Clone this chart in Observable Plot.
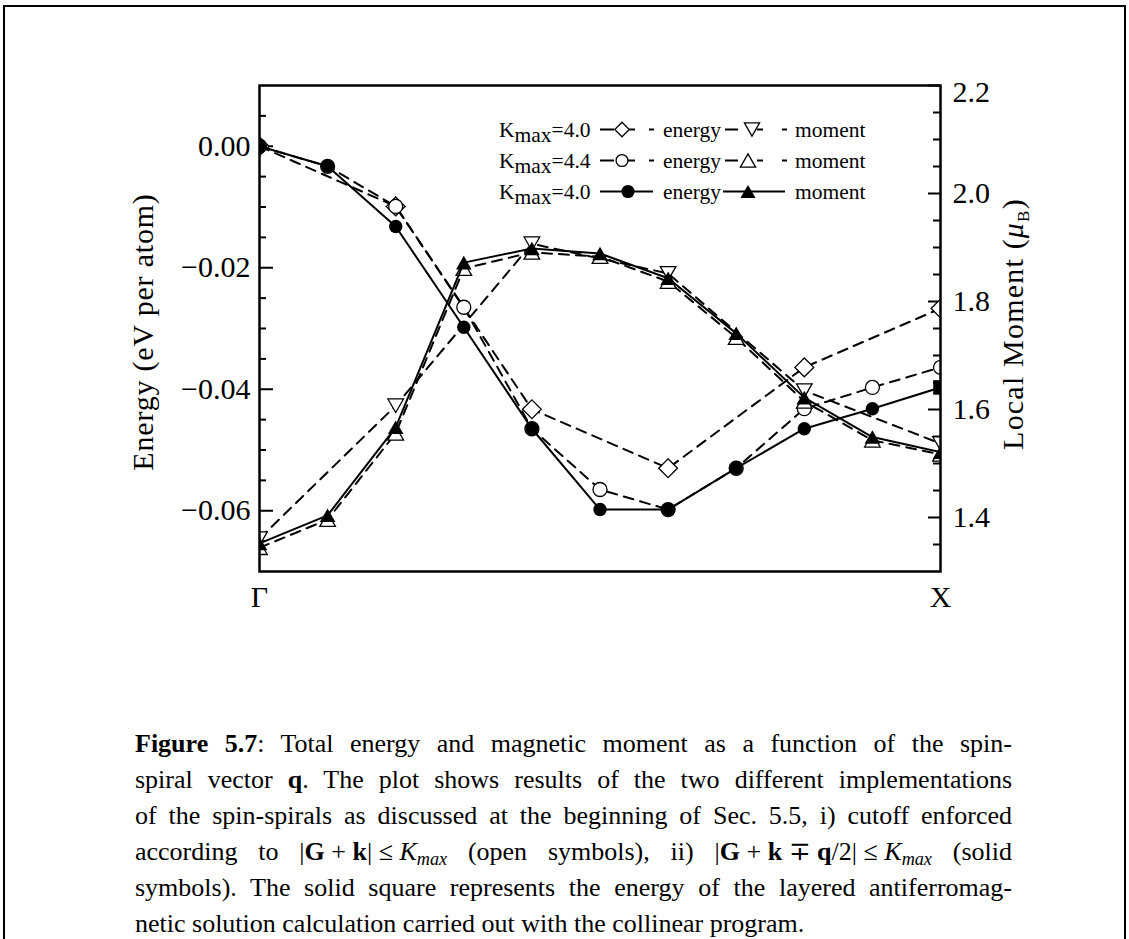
<!DOCTYPE html>
<html>
<head>
<meta charset="utf-8">
<script src="https://cdn.jsdelivr.net/npm/d3@7"></script>
<script src="https://cdn.jsdelivr.net/npm/@observablehq/plot@0.6"></script>
<style>
  html, body { margin: 0; padding: 0; background: #fff; }
  #page { position: relative; width: 1129px; height: 939px; overflow: hidden; background: #fff; font-family: "Liberation Serif", serif; color: #000; }
  #border { position: absolute; left: 3px; top: 5px; width: 1123px; height: 1000px; border: 2.5px solid #000; border-bottom: none; box-sizing: border-box; }
  #chart { position: absolute; left: 0; top: 0; }
  #caption { position: absolute; left: 135px; top: 726px; width: 877px; font-size: 26px; line-height: 36px; }
  #caption div { text-align: justify; text-align-last: justify; white-space: nowrap; }
  #caption div.last { text-align-last: left; }
  #caption sub { font-size: 0.7em; vertical-align: -0.3em; line-height: 0; }
</style>
</head>
<body>
<div id="page">
  <div id="border"></div>
  <div id="chart"></div>
  <div id="caption">
    <div><b>Figure 5.7</b>: Total energy and magnetic moment as a function of the spin-</div>
    <div>spiral vector <b>q</b>. The plot shows results of the two different implementations</div>
    <div>of the spin-spirals as discussed at the beginning of Sec. 5.5, i) cutoff enforced</div>
    <div>according to |<b>G</b>&#8197;+&#8197;<b>k</b>|&#8197;≤&#8197;<i>K<sub>max</sub></i> (open symbols), ii) |<b>G</b>&#8197;+&#8197;<b>k</b>&#8197;∓&#8197;<b>q</b>/2|&#8197;≤&#8197;<i>K<sub>max</sub></i> (solid</div>
    <div>symbols). The solid square represents the energy of the layered antiferromag-</div>
    <div class="last">netic solution calculation carried out with the collinear program.</div>
  </div>
</div>
<script>
// ---------------- data ----------------
const qFine   = [0, 0.1, 0.2, 0.3, 0.4, 0.5, 0.6, 0.7, 0.8, 0.9, 1.0];
const qCoarse = [0, 0.2, 0.4, 0.6, 0.8, 1.0];

// Kmax=4.0, open symbols (dashed): energy (diamonds), moment (down triangles)
const energyOpen40 = [0.0, -0.0099, -0.0433, -0.0530, -0.0364, -0.0267];
const momentOpen40 = [1.361, 1.607, 1.907, 1.852, 1.635, 1.537];

// Kmax=4.4, open symbols (dashed): energy (circles), moment (up triangles)
const energyOpen44 = [0.0, -0.0033, -0.0099, -0.0265, -0.0465, -0.0565, -0.0598, -0.0530, -0.0432, -0.0397, -0.0364];
const momentOpen44 = [1.344, 1.396, 1.556, 1.861, 1.891, 1.883, 1.837, 1.733, 1.615, 1.543, 1.517];

// Kmax=4.0, solid symbols (solid line): energy (circles, q = 0 ... 0.9), moment (triangles)
const energySolid40 = [0.0, -0.0033, -0.0132, -0.0298, -0.0465, -0.0598, -0.0598, -0.0530, -0.0465, -0.0432];
const momentSolid40 = [1.352, 1.404, 1.567, 1.872, 1.898, 1.889, 1.843, 1.741, 1.622, 1.549, 1.521];

// layered antiferromagnetic solution (solid square)
const afmQ = [1.0];
const afmEnergy = [-0.0397];

// axes
const energyDomain = [-0.07, 0.01];
const momentDomain = [1.3, 2.2];
const energyTicks = [-0.06, -0.04, -0.02, 0.00];
const energyMinorTicks = [0.005, -0.005, -0.01, -0.015, -0.025, -0.03, -0.035, -0.045, -0.05, -0.055, -0.065];
const momentTicks = [1.4, 1.6, 1.8, 2.0, 2.2];
const momentMinorTicks = [1.35, 1.45, 1.5, 1.55, 1.65, 1.7, 1.75, 1.85, 1.9, 1.95, 2.05, 2.1, 2.15];
const xTicks = [0, 1];
const xTickLabels = ["Γ", "X"];

// ---------------- helpers ----------------
const m2e = m => energyDomain[0] + (m - momentDomain[0]) / (momentDomain[1] - momentDomain[0]) * (energyDomain[1] - energyDomain[0]);
const e2m = e => momentDomain[0] + (e - energyDomain[0]) / (energyDomain[1] - energyDomain[0]) * (momentDomain[1] - momentDomain[0]);
const rows = (qs, vals, f = v => v) => qs.map((q, i) => ({q, y: f(vals[i])}));

const symDiamond = {draw(c, size) { const h = Math.sqrt(size / 2); c.moveTo(0, -h); c.lineTo(h, 0); c.lineTo(0, h); c.lineTo(-h, 0); c.closePath(); }};
const symUp = {draw(c, size) { const s = Math.sqrt(size * 4 / Math.sqrt(3)), t = s * Math.sqrt(3) / 2; c.moveTo(0, -t / 2); c.lineTo(s / 2, t / 2); c.lineTo(-s / 2, t / 2); c.closePath(); }};
const symDown = {draw(c, size) { const s = Math.sqrt(size * 4 / Math.sqrt(3)), t = s * Math.sqrt(3) / 2; c.moveTo(0, t / 2); c.lineTo(s / 2, -t / 2); c.lineTo(-s / 2, -t / 2); c.closePath(); }};

const fmtE = d => (d < -1e-9 ? "−" : "") + Math.abs(d).toFixed(2);
const fmtM = d => e2m(d).toFixed(1);

const W = 1129, H = 650, ML = 259, MR = 189, MT = 85, MB = 79;
const FW = W - ML - MR;
const dash = "10,7";

const e40 = rows(qCoarse, energyOpen40);
const m40 = rows(qCoarse, momentOpen40, m2e);
const e44 = rows(qFine, energyOpen44);
const m44 = rows(qFine, momentOpen44, m2e);
const eS = rows(qFine.slice(0, energySolid40.length), energySolid40);
const afm = rows(afmQ, afmEnergy);
const eSLine = eS.concat(afm);
const mS = rows(qFine, momentSolid40, m2e);

const openDot = (data, symbol, r) => Plot.dot(data, {x: "q", y: "y", symbol, r, fill: "white", stroke: "black", strokeWidth: 1.3, clip: true});
const solidDot = (data, symbol, r) => Plot.dot(data, {x: "q", y: "y", symbol, r, fill: "black", stroke: "none", clip: true});
const dLine = data => Plot.line(data, {x: "q", y: "y", stroke: "black", strokeWidth: 2, strokeDasharray: dash, clip: true});
const sLine = data => Plot.line(data, {x: "q", y: "y", stroke: "black", strokeWidth: 2, clip: true});

const plot = Plot.plot({
  width: W, height: H,
  marginLeft: ML, marginRight: MR, marginTop: MT, marginBottom: MB,
  style: {fontFamily: "Liberation Serif", fontSize: "30px", background: "transparent", color: "black"},
  x: {domain: [0, 1]},
  y: {domain: energyDomain},
  marks: [
    // ticks (inward)
    Plot.tickY(energyTicks, {y: d => d, insetRight: FW - 14, strokeWidth: 2}),
    Plot.tickY(energyMinorTicks, {y: d => d, insetRight: FW - 7, strokeWidth: 2}),
    Plot.tickY(momentTicks.map(m2e), {y: d => d, insetLeft: FW - 12, strokeWidth: 2}),
    Plot.tickY(momentMinorTicks.map(m2e), {y: d => d, insetLeft: FW - 7, strokeWidth: 2}),
    // tick labels
    Plot.axisY(energyTicks, {anchor: "left", tickSize: 0, tickPadding: 9, tickFormat: fmtE, label: null}),
    Plot.axisY(momentTicks.filter(m => m < 2.2).map(m2e), {anchor: "right", tickSize: 0, tickPadding: 12, tickFormat: fmtM, label: null}),
    Plot.axisY(momentTicks.filter(m => m >= 2.2).map(m2e), {anchor: "right", tickSize: 0, tickPadding: 12, tickFormat: fmtM, label: null, dy: 7}),
    Plot.axisX(xTicks, {tickSize: 0, tickPadding: 14, tickFormat: d => xTickLabels[xTicks.indexOf(d)], label: null}),
    // Kmax=4.0 open
    dLine(e40), openDot(e40, symDiamond, 7.5),
    dLine(m40), openDot(m40, symDown, 5.8),
    // Kmax=4.4 open
    dLine(e44), openDot(e44, "circle", 7),
    dLine(m44), openDot(m44, symUp, 5.8),
    // Kmax=4.0 solid
    sLine(eSLine), solidDot(eS, "circle", 6.7),
    sLine(mS), solidDot(mS, symUp, 5.8),
    solidDot(afm, "square", 8.2),
    Plot.frame({stroke: "black", strokeWidth: 2.5})
  ]
});
document.getElementById("chart").appendChild(plot);

// ---------------- axis titles ----------------
const svg = d3.select(plot);
svg.append("text")
  .attr("transform", `translate(153,${(MT + H - MB) / 2 + 4}) rotate(-90)`)
  .attr("text-anchor", "middle")
  .style("font-size", "30px").style("letter-spacing", "0.8px")
  .text("Energy (eV per atom)");
const rt = svg.append("text")
  .attr("transform", `translate(1023,${(MT + H - MB) / 2 - 4}) rotate(-90)`)
  .attr("text-anchor", "middle")
  .style("font-size", "30px").style("letter-spacing", "1.2px");
rt.append("tspan").text("Local Moment (");
rt.append("tspan").style("font-style", "italic").text("μ");
rt.append("tspan").attr("dy", 6).style("font-size", "17px").text("B");
rt.append("tspan").attr("dy", -6).text(")");

// ---------------- legend ----------------
const lg = svg.append("g").attr("text-anchor", "start").style("font-size", "21.5px");
const legendRows = [
  {k: "4.0", y: 129.5, eSym: symDiamond, eSize: 105, mSym: symDown, mSize: 100, filled: false,
   eLine: [600, 654], eDash: "14,14,7,14,5", eX: 622, mLine: [725, 787], mDash: "13,19,6,19,5", mX: 752},
  {k: "4.4", y: 160.5, eSym: d3.symbolCircle, eSize: 110, mSym: symUp, mSize: 100, filled: false,
   eLine: [600, 654], eDash: "14,14,7,14,5", eX: 622, mLine: [725, 787], mDash: "13,19,6,19,5", mX: 748},
  {k: "4.0", y: 191.5, eSym: d3.symbolCircle, eSize: 135, mSym: symUp, mSize: 100, filled: true,
   eLine: [600, 653], eDash: null, eX: 628, mLine: [723, 785], mDash: null, mX: 748}
];
for (const r of legendRows) {
  const t = lg.append("text").attr("x", 499).attr("y", r.y + 7);
  t.append("tspan").text("K");
  t.append("tspan").attr("dy", 5).text("max");
  t.append("tspan").attr("dy", -5).text("=" + r.k);
  for (const [ln, ds, sx, sym, sz] of [[r.eLine, r.eDash, r.eX, r.eSym, r.eSize], [r.mLine, r.mDash, r.mX, r.mSym, r.mSize]]) {
    lg.append("line").attr("x1", ln[0]).attr("x2", ln[1]).attr("y1", r.y).attr("y2", r.y)
      .attr("stroke", "black").attr("stroke-width", 2).attr("stroke-dasharray", ds);
    lg.append("path").attr("d", d3.symbol(sym, sz)()).attr("transform", `translate(${sx},${r.y})`)
      .attr("fill", r.filled ? "black" : "white").attr("stroke", r.filled ? "none" : "black").attr("stroke-width", 1.3);
  }
  lg.append("text").attr("x", 663).attr("y", r.y + 7).text("energy");
  lg.append("text").attr("x", 795).attr("y", r.y + 7).text("moment");
}
</script>
</body>
</html>
